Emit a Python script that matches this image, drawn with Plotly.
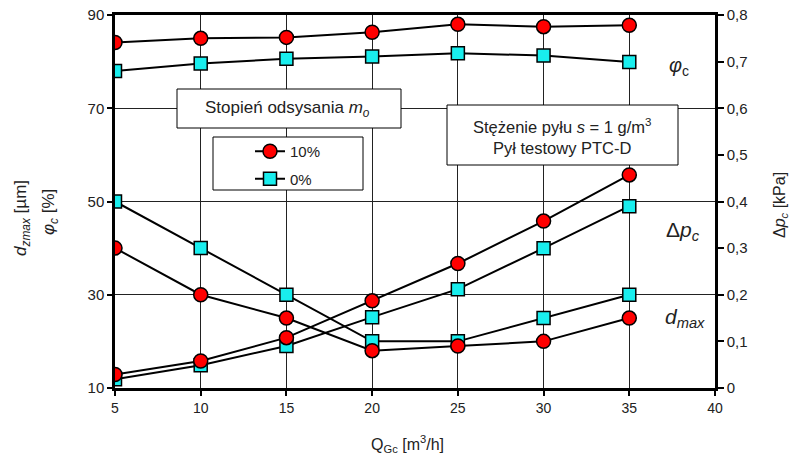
import plotly.graph_objects as go

q = [5, 10, 15, 20, 25, 30, 35]

phi_10 = [84.1, 85.0, 85.2, 86.3, 88.0, 87.5, 87.8]
phi_0 = [78.0, 79.6, 80.6, 81.1, 81.8, 81.3, 79.9]

dmax_10 = [40, 30, 25, 18, 19, 20, 25]
dmax_0 = [50, 40, 30, 20, 20, 25, 30]

dp_10 = [0.029, 0.058, 0.108, 0.187, 0.267, 0.358, 0.457]
dp_0 = [0.019, 0.049, 0.090, 0.152, 0.212, 0.300, 0.390]

x_ticks = [5, 10, 15, 20, 25, 30, 35, 40]
y_ticks = [10, 30, 50, 70, 90]
y2_ticks = [0, 0.1, 0.2, 0.3, 0.4, 0.5, 0.6, 0.7, 0.8]
y2_labels = ["0", "0,1", "0,2", "0,3", "0,4", "0,5", "0,6", "0,7", "0,8"]

RED = "#FF0000"
CYAN = "#19EEEE"
FONT = "Liberation Sans, Arial, sans-serif"

# target plot area in screen pixels (body margin removed by post_script)
PX0, PX1, PY0, PY1 = 115, 715, 15, 388
PW, PH = PX1 - PX0, PY1 - PY0
L = PX0
T = PY0
R = 805 - L - PW
B = 458 - T - PH


def px(x):
    return (x - PX0) / PW


def py(y):
    return (PY1 - y) / PH


fig = go.Figure()


def add(y, color, symbol, size, name, show, rank, yaxis="y"):
    fig.add_trace(go.Scatter(
        x=q, y=y, mode="lines+markers", name=name, showlegend=show,
        legendgroup=name, legendrank=rank, yaxis=yaxis,
        line=dict(color="black", width=2),
        marker=dict(color=color, symbol=symbol, size=size,
                    line=dict(color="black", width=1.5)),
    ))


add(phi_0, CYAN, "square", 13, "0%", True, 2)
add(dmax_0, CYAN, "square", 13, "0%", False, 2)
add(dp_0, CYAN, "square", 13, "0%", False, 2, "y2")
add(phi_10, RED, "circle", 14, "10%", True, 1)
add(dmax_10, RED, "circle", 14, "10%", False, 1)
add(dp_10, RED, "circle", 14, "10%", False, 1, "y2")

fig.update_layout(
    width=805, height=458,
    margin=dict(l=L, r=R, t=T, b=B, autoexpand=False),
    paper_bgcolor="white", plot_bgcolor="white",
    font=dict(family=FONT, size=14, color="#222"),
    showlegend=True,
    legend=dict(x=px(250), y=py(135), xanchor="left", yanchor="top",
                bgcolor="rgba(0,0,0,0)", borderwidth=0,
                traceorder="grouped",
                font=dict(size=15),
                tracegroupgap=5),
    xaxis=dict(range=[5, 40], tickvals=x_ticks, showgrid=True, automargin=False,
               gridcolor="#222", gridwidth=1, showline=True, linecolor="black",
               linewidth=2.5, mirror=True, ticks="outside", ticklen=5,
               tickcolor="black", tickwidth=1.5, zeroline=False,
               ticklabeloverflow="allow", tickfont=dict(size=14)),
    yaxis=dict(range=[10, 90], tickvals=y_ticks, showgrid=True, automargin=False,
               gridcolor="#222", gridwidth=1, showline=True, linecolor="black",
               linewidth=2.5, mirror=True, ticks="outside", ticklen=5,
               tickcolor="black", tickwidth=1.5, zeroline=False,
               ticklabeloverflow="allow", tickfont=dict(size=15)),
    yaxis2=dict(range=[0, 0.8], overlaying="y", side="right", automargin=False,
                tickvals=y2_ticks, ticktext=y2_labels, showgrid=False,
                showline=True, linecolor="black", linewidth=2.5,
                ticks="outside", ticklen=6, tickcolor="black", tickwidth=1.5,
                zeroline=False, ticklabeloverflow="allow", tickfont=dict(size=15)),
)

# boxes (title box, legend frame, info box)
for x0, x1, y0, y1 in [(177, 401, 89, 128), (213, 363, 137, 190), (447, 678, 105, 165)]:
    fig.add_shape(type="rect", xref="paper", yref="paper",
                  x0=px(x0), x1=px(x1), y0=py(y1), y1=py(y0),
                  line=dict(color="black", width=1), fillcolor="white", layer="above")


def note(x, y, text, size, angle=0):
    fig.add_annotation(xref="paper", yref="paper", x=px(x), y=py(y),
                       text=text, showarrow=False, textangle=angle,
                       xanchor="center", yanchor="middle",
                       font=dict(size=size))


note(287, 109, "Stopień odsysania <i>m<sub>o</sub></i>", 17)
note(562, 136, "Stężenie pyłu <i>s</i> = 1 g/m<sup>3</sup><br>Pył testowy PTC-D", 16.5)

# curve labels
note(679, 66, "<i>φ</i><sub>c</sub>", 20)
note(683, 231, "Δ<i>p<sub>c</sub></i>", 21)
note(685, 318, "<i>d<sub>max</sub></i>", 21)

# axis titles
note(407, 444, "Q<sub>Gc</sub> [m<sup>3</sup>/h]", 16)
note(22, 218, "<i>d<sub>zmax</sub></i> [µm]", 17, -90)
note(50, 212, "<i>φ<sub>c</sub></i> [%]", 17, -90)
note(780, 205, "Δ<i>p<sub>c</sub></i> [kPa]", 16, -90)

fig.write_html(
    "out.html",
    config={"displayModeBar": False},
    post_script="document.body.style.margin='0';document.body.style.overflow='hidden';",
)
